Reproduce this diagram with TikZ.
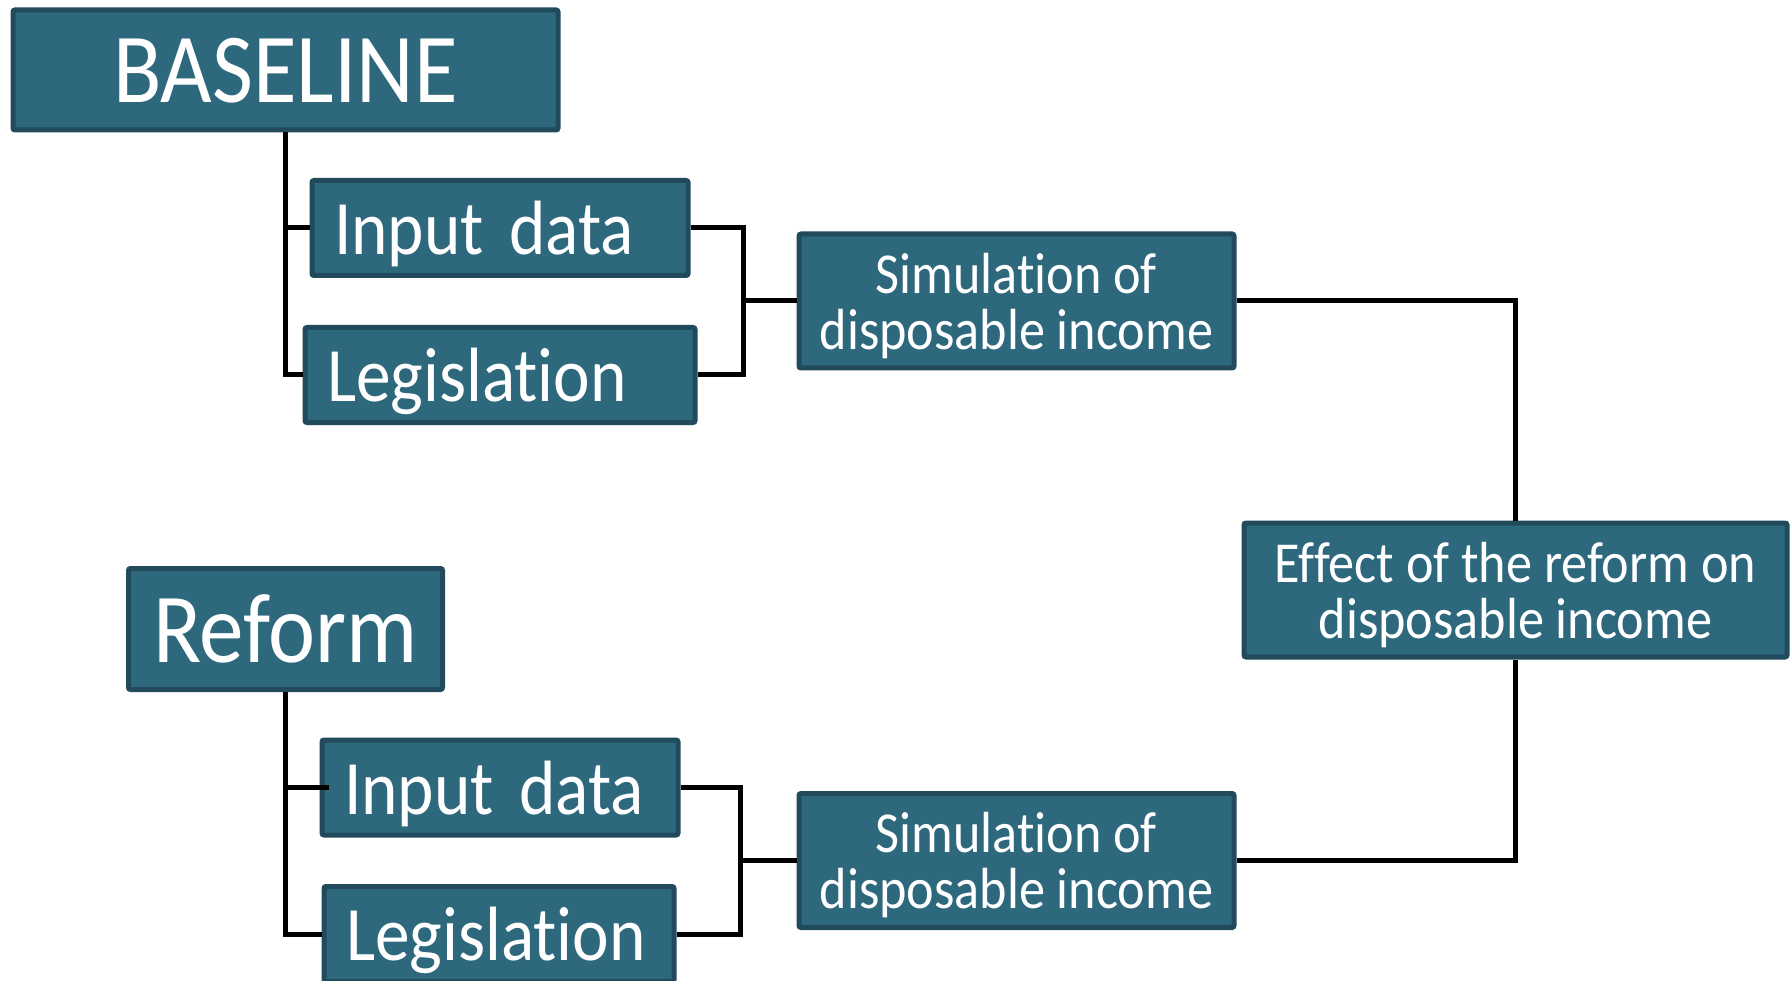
\documentclass[tikz,border=0pt]{standalone}
\usepackage{fontspec}
\setmainfont{Carlito}[FakeStretch=0.9, Ligatures={NoCommon}]
\newfontfamily\midfont{Carlito}[FakeStretch=0.9, Ligatures={NoCommon}, WordSpace=0.7]
\definecolor{boxfill}{HTML}{2E687D}
\definecolor{boxline}{HTML}{214A5C}
\tikzset{
  box/.style={draw=boxline, fill=boxfill, line width=5pt, rounded corners=2pt,
    text=white, inner sep=0pt, text depth=0pt, align=center},
  bigbox/.style={box, font=\fontsize{99}{99}\selectfont},
  midbox/.style={box, font=\midfont\fontsize{77}{77}\selectfont, align=left, inner xsep=22pt},
  smallbox/.style={box, font=\fontsize{58}{56}\selectfont},
  conn/.style={line width=5pt, black}
}
\begin{document}
\begin{tikzpicture}[x=1pt, y=-1pt]
\useasboundingbox (0,0) rectangle (1791,981);
% nodes
\node[bigbox, minimum width=545pt, minimum height=120pt] (base) at (285.5,70) {BASELINE};
\node[midbox, text width=332pt, minimum height=95pt] (in1) at (500,228) {Input data};
\node[midbox, text width=346pt, minimum height=95pt] (leg1) at (500,375) {Legislation};
\node[smallbox, minimum width=435pt, minimum height=134pt] (sim1) at (1016.5,301) {Simulation of\\disposable income};
\node[smallbox, minimum width=543pt, minimum height=134pt] (eff) at (1515.5,590) {Effect of the reform on\\disposable income};
\node[bigbox, minimum width=314pt, minimum height=121pt] (ref) at (285.5,629) {Reform};
\node[midbox, text width=312pt, minimum height=95pt] (in2) at (500,787.5) {Input data};
\node[midbox, text width=306pt, minimum height=95pt] (leg2) at (499,934) {Legislation};
\node[smallbox, minimum width=435pt, minimum height=134pt] (sim2) at (1016.5,860.5) {Simulation of\\disposable income};
% junction points
\coordinate (j1) at (743.5,301);
\coordinate (j2) at (740,860.5);
% connectors
\draw[conn] (base.south) |- (leg1.west);
\draw[conn] (base.south |- in1.west) -- (in1.west);
\draw[conn] (in1.east) -| (j1);
\draw[conn] (leg1.east) -| (j1);
\draw[conn] (j1) -- (sim1.west);
\draw[conn] (sim1.east) -| (eff.north);
\draw[conn] (eff.south) |- (sim2.east);
\draw[conn] (ref.south) |- (leg2.west);
\draw[conn] (ref.south |- in2.west) -- ([xshift=9pt]in2.west);
\draw[conn] (in2.east) -| (j2);
\draw[conn] (leg2.east) -| (j2);
\draw[conn] (j2) -- (sim2.west);
\end{tikzpicture}
\end{document}
